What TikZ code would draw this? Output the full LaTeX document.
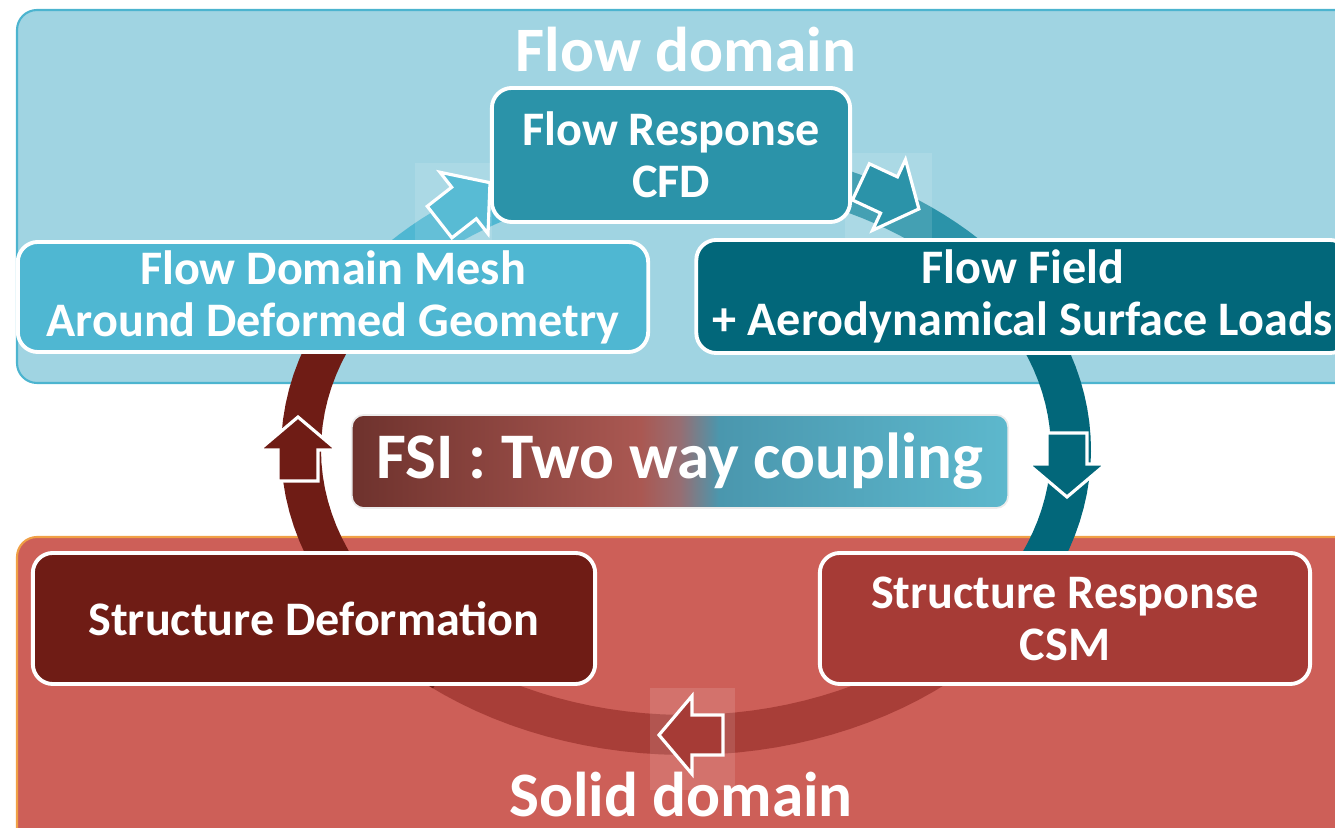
\documentclass[tikz,border=0pt]{standalone}
\usepackage{fontspec}
\setmainfont{Carlito}
\usepackage{tikz}
\usetikzlibrary{positioning, shadows}

\definecolor{flowpanel}{RGB}{160, 212, 226}
\definecolor{flowedge}{RGB}{76, 180, 207}
\definecolor{solidpanel}{RGB}{205, 95, 88}
\definecolor{solidedge}{RGB}{240, 160, 70}
\definecolor{cfdblue}{RGB}{43, 147, 169}
\definecolor{meshblue}{RGB}{79, 183, 210}
\definecolor{fieldteal}{RGB}{2, 103, 122}
\definecolor{deformred}{RGB}{111, 28, 21}
\definecolor{csmred}{RGB}{166, 59, 54}
\definecolor{ringred}{RGB}{168, 62, 56}
\definecolor{fsidark}{RGB}{110, 50, 45}
\definecolor{fsipink}{RGB}{170, 88, 82}
\definecolor{fsimid}{RGB}{150, 110, 115}
\definecolor{fsiteal}{RGB}{74, 151, 174}
\definecolor{fsilight}{RGB}{93, 184, 205}

\pgfdeclarehorizontalshading{fsishade}{100bp}{color(0bp)=(fsidark); color(25bp)=(fsidark);
  color(47bp)=(fsipink); color(50bp)=(fsimid); color(53bp)=(fsiteal);
  color(75bp)=(fsilight); color(100bp)=(fsilight)}

\tikzset{
  box/.style={draw=white, line width=1.1pt, rounded corners=0.2cm, text=white,
    font=\fontsize{13.7}{14.8}\selectfont\bfseries, align=center, inner sep=0pt},
  domaintitle/.style={text=white, font=\fontsize{18}{20}\selectfont\bfseries, inner sep=0pt},
  ring/.style={line width=0.4cm},
  blockarrow/.style={draw=white, line width=0.9pt}
}

% block arrow: x, y, angle, colour
\newcommand{\blockarrow}[4]{%
  \begin{scope}[shift={(#1,#2)}, rotate=#3]
    \draw[blockarrow, fill=#4] (-31,-20) -- (0,-20) -- (0,-39) -- (33,0)
      -- (0,39) -- (0,20) -- (-31,20) -- cycle;
  \end{scope}}

\begin{document}
\begin{tikzpicture}[x=0.01cm, y=-0.01cm]
  \useasboundingbox (0,0) rectangle (1335,828);
  \clip (0,0) rectangle (1335,828);

  % Domain panels
  \draw[fill=flowpanel, draw=flowedge, line width=0.6pt, rounded corners=0.2cm]
    (17,10) rectangle (1360,383);
  \draw[fill=solidpanel, draw=solidedge, line width=0.6pt, rounded corners=0.2cm]
    (17,537) rectangle (1360,850);

  % Coupling ring
  \draw[ring, meshblue] plot[domain=90:150, variable=\t, samples=30]
    ({686+385*cos(\t)}, {450-285*sin(\t)});
  \draw[ring, cfdblue] plot[domain=25:91, variable=\t, samples=30]
    ({686+385*cos(\t)}, {450-285*sin(\t)});
  \draw[ring, fieldteal] plot[domain=-50:26, variable=\t, samples=30]
    ({686+385*cos(\t)}, {450-285*sin(\t)});
  \draw[ring, ringred] plot[domain=230:311, variable=\t, samples=30]
    ({686+385*cos(\t)}, {450-285*sin(\t)});
  \draw[ring, deformred] plot[domain=149:231, variable=\t, samples=30]
    ({686+385*cos(\t)}, {450-285*sin(\t)});

  % Faint frames behind arrows
  \fill[white, opacity=0.12] (415,163) rectangle (492,240);
  \fill[white, opacity=0.12] (845,153) rectangle (932,240);
  \fill[white, opacity=0.12] (650,688) rectangle (735,790);

  % Flow domain boxes
  \node[box, fill=cfdblue, minimum width=3.58cm, minimum height=1.34cm]
    (cfd) at (671,155) {Flow Response\\CFD};
  \node[box, fill=meshblue, minimum width=6.30cm, minimum height=1.10cm]
    (mesh) at (333,297) {Flow Domain Mesh\\Around Deformed Geometry};
  \node[box, fill=fieldteal, minimum width=6.53cm, minimum height=1.13cm]
    (field) at (1023,296.5) {Flow Field\\+ Aerodynamical Surface Loads};

  % Solid domain boxes
  \node[box, fill=deformred, minimum width=5.62cm, minimum height=1.31cm]
    (deform) at (314,618.5) {Structure Deformation};
  \node[box, fill=csmred, minimum width=4.90cm, minimum height=1.31cm]
    (csm) at (1065,618.5) {Structure Response\\CSM};

  % Coupling label
  \node[
    shading=fsishade,
    draw=white!85!gray,
    line width=0.5pt,
    rounded corners=0.12cm,
    minimum width=6.56cm,
    minimum height=0.93cm,
    inner sep=0pt,
    text=white,
    font=\fontsize{18.5}{20}\selectfont\bfseries
  ] (fsi) at (680,461.5) {FSI : Two way coupling};

  % Arrows on the ring
  \blockarrow{464}{203}{38}{meshblue!95!white}
  \blockarrow{889}{195}{-25}{cfdblue}
  \blockarrow{298}{450}{90}{deformred}
  \blockarrow{1067}{464}{-90}{fieldteal}
  \blockarrow{692}{735}{180}{csmred}

  % Domain titles
  \node[domaintitle] (flowtitle) at (686,50) {Flow domain};
  \node[domaintitle] (solidtitle) at (681,795) {Solid domain};
\end{tikzpicture}
\end{document}
